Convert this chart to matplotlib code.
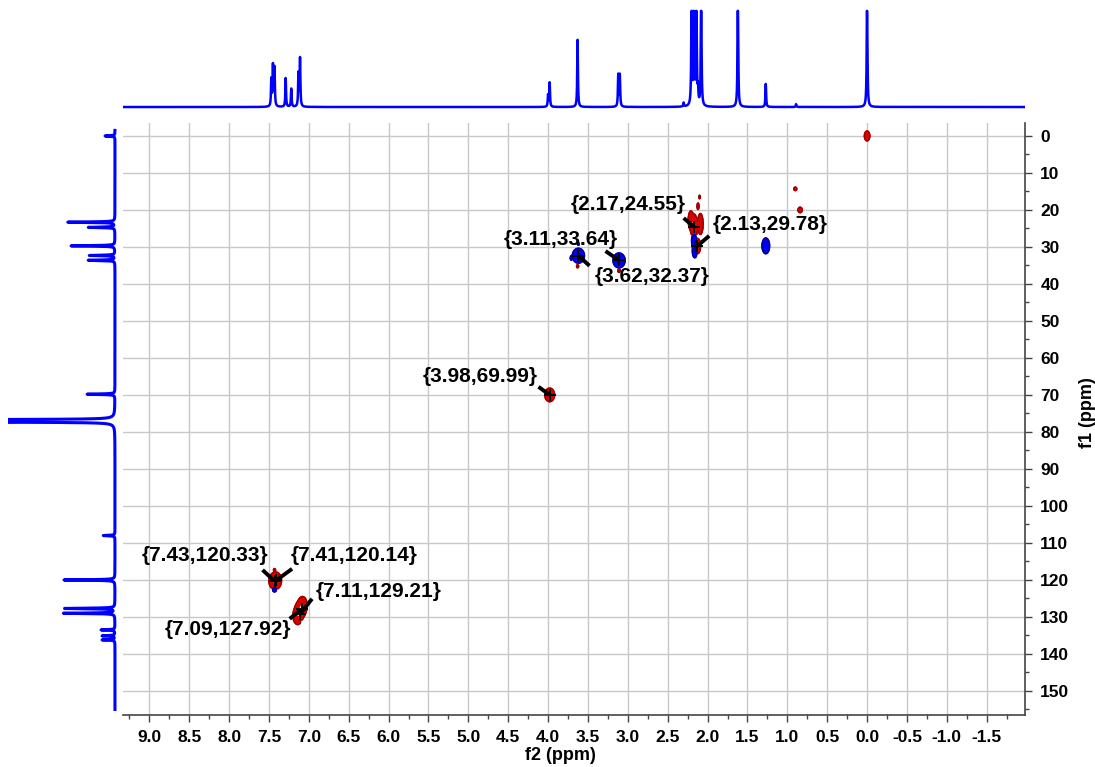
import matplotlib
matplotlib.use("Agg")
import matplotlib.pyplot as plt
import numpy as np
from matplotlib.ticker import MultipleLocator, FormatStrFormatter

plt.rcParams["font.family"] = ["Liberation Sans", "DejaVu Sans"]
plt.rcParams["font.weight"] = "bold"
plt.rcParams["axes.unicode_minus"] = False

# 1H projection (top): shift, height (1.0 = clipped at top)
h1_ppm = [7.47, 7.45, 7.43, 7.29, 7.22, 7.13, 7.11, 4.00, 3.98, 3.63, 3.12, 3.10,
          2.30, 2.20, 2.17, 2.14, 2.12, 2.08, 1.62, 1.27, 0.89, 0.00]
h1_int = [0.28, 0.42, 0.40, 0.30, 0.19, 0.34, 0.50, 0.12, 0.25, 0.70, 0.33, 0.33,
          0.04, 1.3, 1.3, 1.3, 0.15, 1.3, 1.3, 0.24, 0.03, 1.3]

# 13C projection (left)
c13_ppm = [0.0, 23.3, 24.7, 29.7, 32.3, 33.6, 69.8, 76.7, 77.0, 77.3,
           108.0, 120.0, 127.7, 129.0, 133.5, 135.1, 136.2]
c13_int = [0.093, 0.44, 0.25, 0.41, 0.24, 0.25, 0.26, 1.5, 1.5, 1.5,
           0.11, 0.48, 0.47, 0.48, 0.13, 0.12, 0.12]

# HSQC cross peaks: f2, f1, signed amplitude, widths (ppm)
xp_f2 = [0.00, 0.90, 0.84, 2.17, 2.21, 2.09, 2.13, 2.12, 2.10, 3.98, 7.43, 7.41, 7.43,
         7.08, 7.11, 7.14, 3.63, 3.11,
         1.27, 3.62, 3.11, 3.62, 3.71, 2.17, 2.16, 7.43, 7.10]
xp_f1 = [0.0, 14.3, 20.0, 24.55, 22.8, 23.8, 29.78, 19.0, 16.5, 69.99, 120.33, 120.14, 117.3,
         126.9, 128.2, 129.7, 35.2, 36.4,
         29.7, 32.37, 33.64, 29.2, 33.0, 28.0, 31.2, 122.5, 131.0]
xp_amp = [0.6, 0.12, 0.15, 1.0, 0.7, 0.8, 0.8, 0.15, 0.10, 1.0, 1.0, 0.8, 0.15,
          0.9, 1.0, 0.8, 0.15, 0.2,
          -0.8, -0.6, -0.6, -0.12, -0.12, -0.6, -0.5, -0.3, -0.12]
xp_w2 = [0.015, 0.014, 0.018, 0.018, 0.014, 0.014, 0.018, 0.008, 0.008, 0.025, 0.028, 0.028, 0.008,
         0.025, 0.027, 0.025, 0.009, 0.009,
         0.02, 0.034, 0.034, 0.008, 0.008, 0.014, 0.014, 0.015, 0.008]
xp_w1 = [0.6, 0.35, 0.5, 1.4, 1.1, 1.2, 0.9, 0.6, 0.4, 0.75, 0.9, 0.9, 0.25,
         1.0, 1.0, 1.0, 0.3, 0.3,
         0.9, 0.9, 0.9, 0.25, 0.4, 1.1, 0.8, 0.4, 0.25]

# picked peaks
pk_f2 = [2.17, 2.13, 3.11, 3.62, 3.98, 7.43, 7.41, 7.11, 7.09]
pk_f1 = [24.55, 29.78, 33.64, 32.37, 69.99, 120.33, 120.14, 129.21, 127.92]
# label centre and leader start (layout, in ppm)
lab_xy = [(2.99, 18.6), (1.21, 23.8), (3.84, 28.1), (2.70, 38.1), (4.85, 64.9),
          (8.30, 113.5), (6.43, 113.5), (6.13, 123.0), (8.02, 133.5)]
lead_xy = [(2.30, 22.2), (1.98, 27.0), (3.28, 31.1), (3.48, 35.1), (4.12, 67.8),
           (7.58, 117.3), (7.21, 117.0), (6.96, 125.1), (7.24, 130.5)]

XL = (9.33, -1.98)
YL = (156.5, -3.5)
BLUE = "#0000ff"


def lorentz(x, centres, heights, hw):
    y = np.zeros_like(x)
    for c, h in zip(centres, heights):
        y += h * hw**2 / ((x - c) ** 2 + hw**2)
    return y


fig = plt.figure(figsize=(10.95, 7.67), dpi=100)
W, H = 1095, 767
ax = fig.add_axes([123 / W, 1 - 715 / H, 902 / W, 592 / H])
ax_top = fig.add_axes([123 / W, 1 - 110 / H, 902 / W, 102 / H])
ax_left = fig.add_axes([8 / W, 1 - 715 / H, 112 / W, 592 / H])

# 2D contours
f2 = np.arange(XL[1], XL[0], 0.006)
f1 = np.arange(YL[1], YL[0], 0.12)
Z = np.zeros((f1.size, f2.size))
for a, b, amp, w2, w1 in zip(xp_f2, xp_f1, xp_amp, xp_w2, xp_w1):
    Z += amp * np.outer(np.exp(-0.5 * ((f1 - b) / w1) ** 2), np.exp(-0.5 * ((f2 - a) / w2) ** 2))
levels = [0.05, 0.08, 0.12, 0.17, 0.24, 0.32, 0.42, 0.55, 0.7, 0.85]
ax.contour(f2, f1, Z, levels=levels, colors="#dd0000", linewidths=1.1, zorder=3)
ax.contour(f2, f1, Z, levels=levels[:1], colors="#990000", linewidths=1.0, zorder=3)
ax.contour(f2, f1, -Z, levels=levels, colors="#0000ee", linewidths=1.1, zorder=3)
ax.contour(f2, f1, -Z, levels=levels[:1], colors="#000099", linewidths=1.0, zorder=3)

# peak labels
for px, py, (tx, ty), (sx, sy) in zip(pk_f2, pk_f1, lab_xy, lead_xy):
    ax.plot([sx, px], [sy, py], color="black", lw=2.8, solid_capstyle="butt", zorder=5)
    ax.plot(px, py, marker="+", color="black", ms=8, mew=1.4, zorder=6)
    ax.text(tx, ty, "{%.2f,%.2f}" % (px, py), ha="center", va="center",
            fontsize=15, fontweight="bold", zorder=7)

ax.set_xlim(*XL)
ax.set_ylim(*YL)
ax.xaxis.set_major_locator(MultipleLocator(0.5))
ax.xaxis.set_minor_locator(MultipleLocator(0.25))
ax.xaxis.set_major_formatter(FormatStrFormatter("%.1f"))
ax.yaxis.set_major_locator(MultipleLocator(10))
ax.yaxis.set_minor_locator(MultipleLocator(5))
ax.yaxis.tick_right()
ax.grid(True, which="major", color="#c8c8c8", lw=1.0, zorder=0)
ax.set_axisbelow(True)
for s in ("top", "left"):
    ax.spines[s].set_visible(False)
for s in ("bottom", "right"):
    ax.spines[s].set_color("#444444")
    ax.spines[s].set_linewidth(1.2)
ax.tick_params(which="major", length=5, width=1.0, color="#444444", labelsize=12.5, pad=6)
ax.tick_params(which="minor", length=3, width=1.0, color="#444444")
ax.tick_params(axis="y", which="both", left=False, right=True)
for lbl in ax.get_xticklabels() + ax.get_yticklabels():
    lbl.set_fontweight("bold")

fig.text(560 / W, 1 - 756 / H, "f2 (ppm)", ha="center", va="center", fontsize=13, fontweight="bold")
fig.text(1087 / W, 1 - 413 / H, "f1 (ppm)", ha="center", va="center", fontsize=13,
         fontweight="bold", rotation=90)

# 1H projection
x1 = np.linspace(XL[1], XL[0], 12000)
y1 = np.minimum(lorentz(x1, h1_ppm, h1_int, 0.005), 1.0)
ax_top.plot(x1, y1, color=BLUE, lw=1.8)
ax_top.set_xlim(*XL)
ax_top.set_ylim(-0.031, 1.03)
ax_top.axis("off")

# 13C projection
yc = np.linspace(-1.5, 155.0, 9000)
xc = lorentz(yc, c13_ppm, c13_int, 0.09)
ax_left.plot(xc, yc, color=BLUE, lw=2.2)
ax_left.set_xlim(1.0, -0.047)
ax_left.set_ylim(*YL)
ax_left.axis("off")

fig.savefig("out.png", dpi=100)
